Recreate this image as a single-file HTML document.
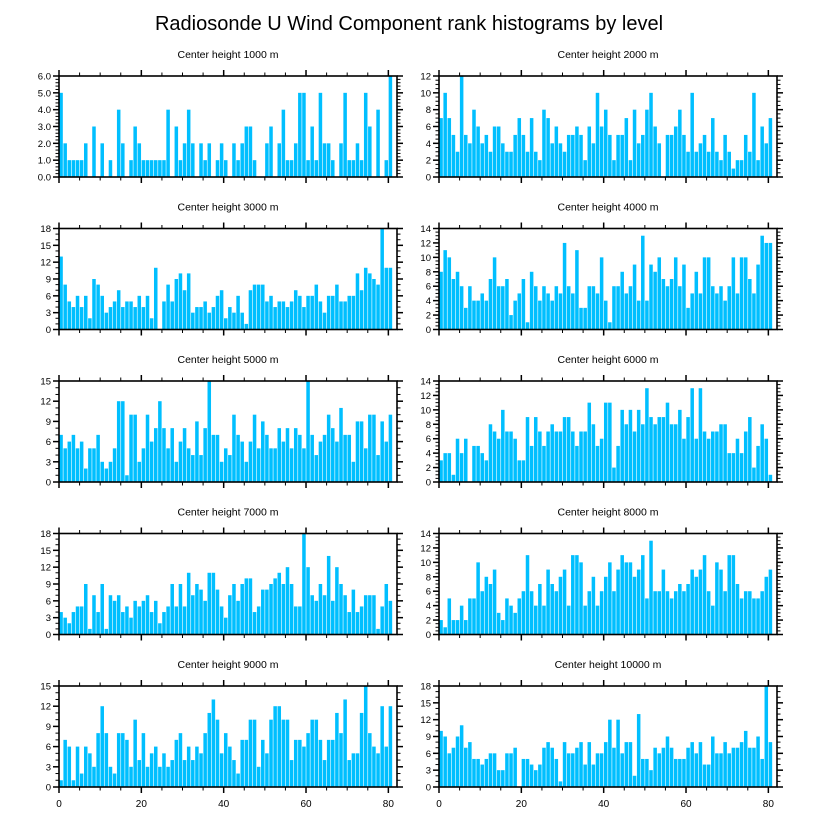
<!DOCTYPE html>
<html><head><meta charset="utf-8">
<style>
html,body{margin:0;padding:0;background:#fff;}
svg{display:block;font-family:"Liberation Sans",Arial,sans-serif;}
</style></head>
<body>
<svg id="chart" width="818" height="824" viewBox="0 0 818 824" xmlns="http://www.w3.org/2000/svg">
<rect width="818" height="824" fill="#fff"/>
<text x="409" y="30" text-anchor="middle" font-size="20" fill="#000">Radiosonde U Wind Component rank histograms by level</text>
<g id="panels"></g>
</svg>
<script>
const panelTitles = ["Center height 1000 m","Center height 2000 m","Center height 3000 m","Center height 4000 m","Center height 5000 m","Center height 6000 m","Center height 7000 m","Center height 8000 m","Center height 9000 m","Center height 10000 m"];
const yMaxes = [6,12,18,14,15,14,18,14,15,18];
const yStepsMajor = [1,2,3,2,3,2,3,2,3,3];
const xTickLabels = [0,20,40,60,80];
const counts1000 = [5,2,1,1,1,1,2,0,3,0,2,0,1,0,4,2,0,1,3,2,1,1,1,1,1,1,4,0,3,1,2,4,2,0,2,1,2,0,1,2,1,0,2,1,2,3,3,1,0,0,2,3,0,2,4,1,1,2,5,5,1,3,1,5,2,2,1,0,2,5,1,1,2,1,5,3,0,4,0,1,6];
const counts2000 = [7,10,7,5,3,12,5,4,8,6,4,5,3,6,6,4,3,3,5,7,5,3,7,3,2,8,7,4,6,4,3,5,5,6,5,2,6,4,10,6,8,5,2,5,5,7,2,8,4,5,8,10,6,4,0,5,5,6,8,5,3,10,3,4,5,3,7,3,2,5,3,1,2,2,5,3,10,2,6,4,7];
const counts3000 = [13,8,5,4,6,4,6,2,9,8,6,3,4,5,7,4,5,5,4,6,4,6,2,11,0,5,8,5,9,10,7,10,3,4,4,5,3,4,6,7,2,4,3,6,3,1,7,8,8,8,5,6,4,5,5,4,5,7,6,4,6,6,8,5,3,6,6,8,5,5,6,6,10,7,11,10,9,8,18,11,11];
const counts4000 = [8,11,10,7,8,6,3,6,4,4,5,4,7,10,6,6,7,2,4,5,7,1,8,6,4,6,5,4,6,5,12,6,5,11,3,3,6,6,5,10,4,1,6,6,8,5,6,9,4,13,4,9,8,10,7,6,7,10,6,9,3,5,8,5,10,10,6,5,6,4,6,10,5,10,10,7,5,9,13,12,12];
const counts5000 = [7,5,6,7,5,6,2,5,5,7,3,2,3,5,12,12,1,10,10,3,5,10,6,8,12,8,5,8,3,6,8,5,4,9,4,8,15,7,7,3,5,4,10,7,6,3,6,10,5,9,7,5,5,8,6,8,5,8,7,5,15,7,4,6,7,10,8,6,11,7,7,3,9,9,5,10,10,4,9,6,10];
const counts6000 = [3,4,4,1,6,4,6,0,5,5,4,3,8,7,6,10,7,7,6,3,3,9,5,9,7,5,7,8,7,7,9,9,7,5,7,7,11,8,5,6,11,11,2,5,10,8,10,7,10,8,13,9,8,9,9,11,8,8,10,6,9,13,6,13,7,6,7,7,8,8,4,4,6,4,7,9,2,5,8,6,1];
const counts7000 = [4,3,2,4,5,5,9,1,7,4,9,1,7,6,7,4,5,3,6,5,6,7,4,6,2,4,5,9,5,9,5,11,7,9,8,6,11,11,8,5,3,7,9,6,9,10,10,4,5,8,8,9,10,11,9,12,9,5,5,18,12,7,6,9,7,14,6,12,9,7,4,8,4,5,7,7,7,1,5,9,6];
const counts8000 = [2,1,5,2,2,4,2,5,5,10,6,8,7,9,3,2,5,4,3,5,6,11,6,4,7,4,9,7,6,8,9,4,11,11,10,4,6,8,4,6,8,10,6,9,11,10,10,8,9,11,5,13,6,6,9,6,5,6,7,6,7,9,8,9,11,6,4,10,9,6,11,11,7,5,6,6,5,5,6,8,9];
const counts9000 = [1,7,6,1,6,2,6,5,3,8,12,8,3,2,8,8,7,3,10,4,8,3,5,6,3,5,3,4,7,8,4,6,4,6,5,8,11,13,10,5,8,6,4,2,7,7,10,10,3,7,5,10,12,12,10,10,4,7,7,6,8,10,10,7,4,7,7,11,8,13,4,5,5,11,15,8,6,5,12,6,12];
const counts10000 = [10,9,6,7,9,11,7,8,5,5,4,5,6,6,3,3,6,6,7,0,5,5,4,3,4,7,8,7,5,1,8,6,6,7,8,4,8,4,6,6,8,12,7,12,6,8,8,2,13,5,5,3,7,6,7,9,7,5,5,5,7,8,6,8,4,4,9,6,6,8,6,7,7,8,10,7,7,9,5,18,8];
const allCounts = [counts1000,counts2000,counts3000,counts4000,counts5000,counts6000,counts7000,counts8000,counts9000,counts10000];

const NS = "http://www.w3.org/2000/svg";
const root = document.getElementById("panels");
function mk(tag, attrs, parent){
  const e = document.createElementNS(NS, tag);
  for (const k in attrs) e.setAttribute(k, attrs[k]);
  parent.appendChild(e);
  return e;
}
const X_MAX = 82.1;
const colLeft = [59, 439], colRight = [397, 777];
const rowTop = [76, 228.5, 381, 533.5, 686], plotH = 101;

for (let p = 0; p < 10; p++){
  const col = p % 2, row = Math.floor(p / 2);
  const L = colLeft[col], R = colRight[col], T = rowTop[row], B = T + plotH;
  const xs = v => L + v / X_MAX * (R - L);
  const ymax = yMaxes[p];
  const ys = v => B - v / ymax * (B - T);
  const g = mk("g", {}, root);
  
  

  const t = mk("text", {x: (L + R) / 2, y: T - 18, "text-anchor": "middle", "font-size": "10.5", fill: "#000"}, g);
  
  
  t.textContent = panelTitles[p];

  const data = allCounts[p];
  data.forEach((v, i) => {
    if (v <= 0) return;
    const r = mk("rect", {x: xs(i) + 0.3, y: ys(v), width: Math.max(0.5, xs(i + 1) - xs(i) - 0.6), height: B - ys(v), fill: "#00bfff"}, g);
    
    
  });

  // frame
  const f = mk("rect", {x: L, y: T, width: R - L, height: plotH, fill: "none", stroke: "#000", "stroke-width": 1.6}, g);
  
  

  // x ticks (top and bottom, outward)
  for (let v = 0; v <= 80; v += 5){
    const major = v % 20 === 0, len = major ? 6 : 3.5, x = xs(v);
    mk("line", {x1: x, y1: B, x2: x, y2: B + len, stroke: "#000", "stroke-width": major ? 1.5 : 1}, g);
    mk("line", {x1: x, y1: T, x2: x, y2: T - len, stroke: "#000", "stroke-width": major ? 1.5 : 1}, g);
  }
  if (row === 4){
    xTickLabels.forEach(v => {
      const tl = mk("text", {x: xs(v), y: B + 20, "text-anchor": "middle", "font-size": "10", fill: "#000"}, g);
      
      
      tl.textContent = v;
    });
  }
  // y ticks
  const step = yStepsMajor[p];
  const minor = step === 1 ? 0.2 : (step === 2 ? 0.5 : 1);
  const nMinor = Math.round(ymax / minor);
  for (let k = 0; k <= nMinor; k++){
    const v = k * minor, y = ys(v);
    const major = Math.abs(v / step - Math.round(v / step)) < 1e-6, len = major ? 6 : 3.5;
    mk("line", {x1: L, y1: y, x2: L - len, y2: y, stroke: "#000", "stroke-width": major ? 1.5 : 1}, g);
    mk("line", {x1: R, y1: y, x2: R + len, y2: y, stroke: "#000", "stroke-width": major ? 1.5 : 1}, g);
    if (major){
      const yl = mk("text", {x: L - 8, y: y + 3.5, "text-anchor": "end", "font-size": "9.5", fill: "#000"}, g);
      
      
      yl.textContent = p === 0 ? v.toFixed(1) : Math.round(v);
    }
  }
}
</script>
</body></html>
